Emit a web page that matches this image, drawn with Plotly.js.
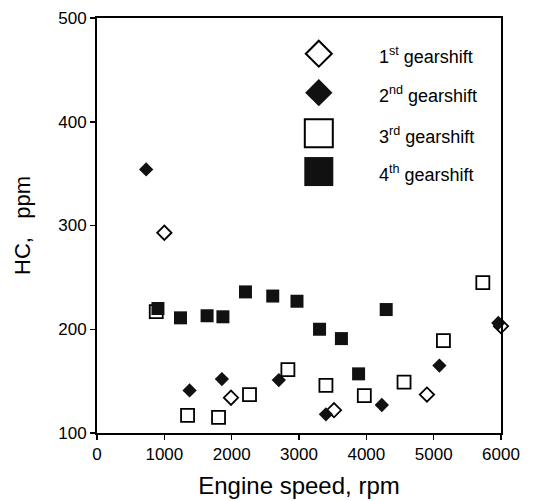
<!DOCTYPE html>
<html>
<head>
<meta charset="utf-8">
<script src="https://cdn.plot.ly/plotly-3.0.1.min.js"></script>
<style>html,body{margin:0;padding:0;background:#fff;}#chart{width:537px;height:501px;}</style>
</head>
<body>
<div id="chart"></div>
<script>
// Data (Engine speed rpm, HC ppm)
const gear1X = [1000, 1990, 3520, 4900, 6000];
const gear1Y = [293, 134, 122, 137, 203];
const gear2X = [730, 1375, 1855, 2700, 3400, 4230, 5085, 5960];
const gear2Y = [354, 141, 152, 151, 118, 127, 165, 206];
const gear3X = [880, 1345, 1805, 2265, 2835, 3400, 3970, 4560, 5145, 5730];
const gear3Y = [217, 117, 115, 137, 161, 146, 136, 149, 189, 245];
const gear4X = [905, 1240, 1635, 1870, 2205, 2610, 2970, 3305, 3630, 3885, 4295];
const gear4Y = [220, 211, 213, 212, 236, 232, 227, 200, 191, 157, 219];
const legendLabels = ['1<sup>st</sup> gearshift', '2<sup>nd</sup> gearshift', '3<sup>rd</sup> gearshift', '4<sup>th</sup> gearshift'];
const xTicks = [0, 1000, 2000, 3000, 4000, 5000, 6000];
const yTicks = [100, 200, 300, 400, 500];

const FAM = 'Liberation Sans, Arial, sans-serif';
const openDia = {symbol: 'diamond-open', color: '#000', size: 11, line: {width: 1.8, color: '#000'}};
const fillDia = {symbol: 'diamond', color: '#111', size: 11, line: {width: 0}};
const openSq = {symbol: 'square-open', color: '#000', size: 13, line: {width: 1.8, color: '#000'}};
const fillSq = {symbol: 'square', color: '#111', size: 13, line: {width: 0}};

const traces = [
  {x: gear1X, y: gear1Y, type: 'scatter', mode: 'markers', marker: openDia, cliponaxis: false, showlegend: false},
  {x: gear2X, y: gear2Y, type: 'scatter', mode: 'markers', marker: fillDia, cliponaxis: false, showlegend: false},
  {x: gear3X, y: gear3Y, type: 'scatter', mode: 'markers', marker: openSq, cliponaxis: false, showlegend: false},
  {x: gear4X, y: gear4Y, type: 'scatter', mode: 'markers', marker: fillSq, cliponaxis: false, showlegend: false}
];

// Custom legend drawn on an overlay axis (0..1 coordinates of the plot area)
const legY = [0.914, 0.82, 0.722, 0.63];
const legSyms = [
  {symbol: 'diamond-open', color: '#000', size: 20, line: {width: 2, color: '#000'}},
  {symbol: 'diamond', color: '#111', size: 21, line: {width: 0}},
  {symbol: 'square-open', color: '#000', size: 28, line: {width: 2, color: '#000'}},
  {symbol: 'square', color: '#111', size: 29, line: {width: 0}}
];
legSyms.forEach((m, i) => {
  traces.push({x: [0.549], y: [legY[i]], xaxis: 'x2', yaxis: 'y2', type: 'scatter', mode: 'markers',
    marker: m, showlegend: false, hoverinfo: 'skip'});
});
const annotations = legendLabels.map((t, i) => ({
  xref: 'paper', yref: 'paper', x: 0.693, y: legY[i] - 0.004, xanchor: 'left', yanchor: 'middle',
  text: t, showarrow: false, font: {family: FAM, size: 18, color: '#000'}
}));

const layout = {
  width: 537, height: 501,
  margin: {l: 96.5, r: 36, t: 18, b: 68, pad: 0},
  paper_bgcolor: '#fff', plot_bgcolor: '#fff',
  font: {family: FAM, size: 16, color: '#000'},
  showlegend: false,
  xaxis: {
    range: [0, 6000], tickvals: xTicks, ticktext: xTicks.map(String),
    showgrid: false, zeroline: false, showline: true, mirror: true, linecolor: '#000', linewidth: 2,
    ticks: 'outside', ticklen: 5, tickwidth: 1.5, tickcolor: '#000',
    tickfont: {family: FAM, size: 17, color: '#000'},
    title: {text: 'Engine speed, rpm', font: {family: FAM, size: 24, color: '#000'}, standoff: 14}
  },
  yaxis: {
    range: [100, 500], tickvals: yTicks, ticktext: yTicks.map(String),
    showgrid: false, zeroline: false, showline: true, mirror: true, linecolor: '#000', linewidth: 2,
    ticks: 'outside', ticklen: 5, tickwidth: 1.5, tickcolor: '#000',
    tickfont: {family: FAM, size: 17, color: '#000'},
    title: {text: 'HC,   ppm', font: {family: FAM, size: 22, color: '#000'}, standoff: 22}
  },
  xaxis2: {range: [0, 1], overlaying: 'x', visible: false, fixedrange: true},
  yaxis2: {range: [0, 1], overlaying: 'y', visible: false, fixedrange: true},
  annotations: annotations
};

Plotly.newPlot('chart', traces, layout, {displayModeBar: false, staticPlot: true});
</script>
</body>
</html>
